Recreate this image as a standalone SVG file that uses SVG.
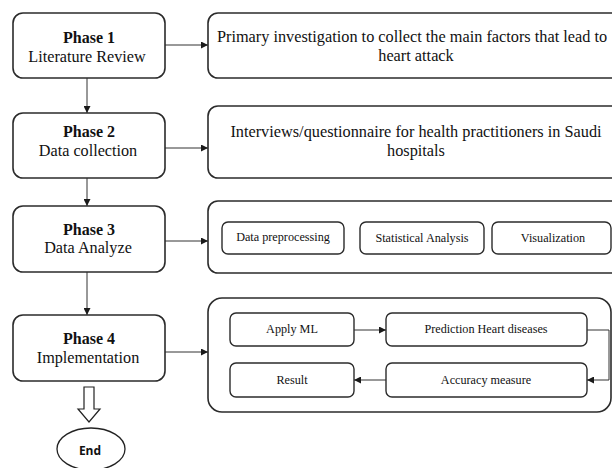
<svg xmlns="http://www.w3.org/2000/svg" width="612" height="468" viewBox="0 0 612 468">
<defs>
<marker id="ah" viewBox="0 0 10 10" refX="10" refY="5" markerWidth="7" markerHeight="7" markerUnits="userSpaceOnUse" orient="auto">
<path d="M0,0 L10,5 L0,10 z" fill="#1a1a1a"/>
</marker>
</defs>
<style>
.box{fill:#fff;stroke:#2b2b2b;stroke-width:1.6}
.ibox{fill:#fff;stroke:#2b2b2b;stroke-width:1.4}
.con{fill:none;stroke:#333;stroke-width:1}
.t{font-family:"Liberation Serif","Times New Roman",serif;fill:#111;text-anchor:middle}
.ph{font-size:16px;font-weight:bold}
.lb{font-size:16.2px}
.rt{font-size:16.3px}
.it{font-size:12.2px}
.end{font-family:"Open Sans","Liberation Sans",Arial,sans-serif;font-size:12px;font-weight:bold;fill:#111;text-anchor:middle}
</style>
<rect width="612" height="468" fill="#fff"/>

<g id="connectors">
<line class="con" x1="87" y1="78" x2="87" y2="113" marker-end="url(#ah)"/>
<line class="con" x1="87" y1="178" x2="87" y2="206" marker-end="url(#ah)"/>
<line class="con" x1="87" y1="272" x2="87" y2="315" marker-end="url(#ah)"/>
<line class="con" x1="165" y1="45" x2="208" y2="45" marker-end="url(#ah)"/>
<line class="con" x1="165" y1="148" x2="208" y2="148" marker-end="url(#ah)"/>
<line class="con" x1="165" y1="241" x2="208" y2="241" marker-end="url(#ah)"/>
<line class="con" x1="165" y1="352" x2="208" y2="352" marker-end="url(#ah)"/>
<path class="con" d="M84,387 H94 V409 H100 L89,422 L78,409 H84 Z" style="stroke:#222;stroke-width:1.2"/>
</g>

<g id="phase1">
<rect class="box" x="13" y="13" width="152" height="65" rx="10"/>
<text class="t ph" x="89" y="43">Phase 1</text>
<text class="t lb" x="87" y="62">Literature Review</text>
</g>
<g id="phase2">
<rect class="box" x="13" y="113" width="152" height="65" rx="10"/>
<text class="t ph" x="89" y="137">Phase 2</text>
<text class="t lb" x="88" y="156">Data collection</text>
</g>
<g id="phase3">
<rect class="box" x="13" y="206" width="152" height="66" rx="10"/>
<text class="t ph" x="89" y="235">Phase 3</text>
<text class="t lb" x="88" y="253">Data Analyze</text>
</g>
<g id="phase4">
<rect class="box" x="13" y="315" width="152" height="66" rx="10"/>
<text class="t ph" x="89" y="344">Phase 4</text>
<text class="t lb" x="88" y="363">Implementation</text>
</g>

<g id="task1">
<rect class="box" x="208" y="13" width="420" height="65" rx="10"/>
<text class="t rt" x="412" y="42">Primary investigation to collect the main factors that lead to</text>
<text class="t rt" x="416" y="61">heart attack</text>
</g>
<g id="task2">
<rect class="box" x="208" y="106" width="420" height="72" rx="10"/>
<text class="t rt" x="416" y="137">Interviews/questionnaire for health practitioners in Saudi</text>
<text class="t rt" x="416" y="156">hospitals</text>
</g>
<g id="task3">
<rect class="box" x="208" y="201" width="420" height="72" rx="10"/>
</g>
<g id="preprocessing">
<rect class="ibox" x="222" y="222" width="122" height="32" rx="6"/>
<text class="t it" x="283" y="241">Data preprocessing</text>
</g>
<g id="statistical">
<rect class="ibox" x="360" y="222" width="124" height="32" rx="6"/>
<text class="t it" x="422" y="242">Statistical Analysis</text>
</g>
<g id="visualization">
<rect class="ibox" x="492" y="222" width="119" height="32" rx="6"/>
<text class="t it" x="553" y="242">Visualization</text>
</g>
<g id="task4">
<rect class="box" x="208" y="298" width="403" height="114" rx="14"/>
</g>
<g id="applyml">
<rect class="ibox" x="230" y="313" width="124" height="33" rx="6"/>
<text class="t it" x="292" y="333">Apply ML</text>
</g>
<g id="prediction">
<rect class="ibox" x="386" y="313" width="201" height="33" rx="6"/>
<text class="t it" x="486" y="333">Prediction Heart diseases</text>
</g>
<g id="accuracy">
<rect class="ibox" x="386" y="363" width="201" height="34" rx="6"/>
<text class="t it" x="486" y="384">Accuracy measure</text>
</g>
<g id="result">
<rect class="ibox" x="230" y="363" width="124" height="34" rx="6"/>
<text class="t it" x="292" y="384">Result</text>
</g>
<g id="inner-connectors">
<line class="con" x1="354" y1="330" x2="386" y2="330" marker-end="url(#ah)"/>
<path class="con" d="M587,330 H609 V380 H587" marker-end="url(#ah)"/>
<line class="con" x1="386" y1="380" x2="354" y2="380" marker-end="url(#ah)"/>
</g>
<g id="end">
<ellipse cx="91" cy="449" rx="34" ry="21" fill="#fff" stroke="#222" stroke-width="1.3"/>
<text class="end" x="90" y="455">End</text>
</g>
</svg>
